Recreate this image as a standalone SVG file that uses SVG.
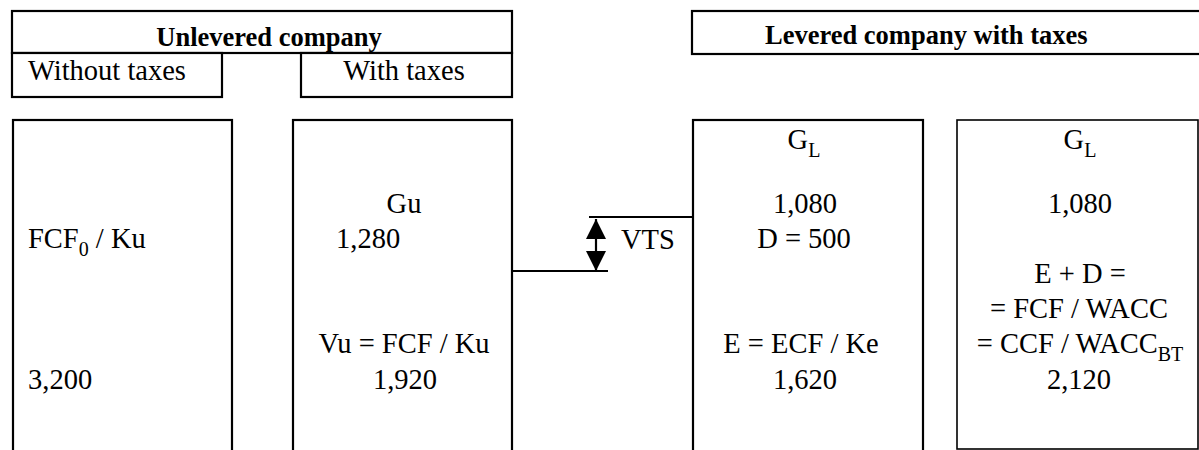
<svg xmlns="http://www.w3.org/2000/svg" width="1199" height="450" viewBox="0 0 1199 450">
<style>
.box{fill:#fff;stroke:#000;stroke-width:2.2}
.t{font-family:"Liberation Serif","Times New Roman",serif;font-size:28.5px;fill:#000}
.b{font-family:"Liberation Serif","Times New Roman",serif;font-size:26.5px;font-weight:bold;fill:#000}
.c{text-anchor:middle}
.sub{font-size:20px}
.ln{stroke:#000;stroke-width:2.2;fill:none}
</style>
<defs>
<marker id="ah" viewBox="0 0 20 20" refX="20" refY="10" markerWidth="20" markerHeight="20" markerUnits="userSpaceOnUse" orient="auto-start-reverse">
<path d="M0,0 L20,10 L0,20 Z" fill="#000"/>
</marker>
</defs>
<rect width="1199" height="450" fill="#fff"/>
<g id="unlevered-header">
<rect class="box" x="12" y="11" width="500" height="42"/>
<text class="b c" x="269" y="46">Unlevered company</text>
</g>
<g id="without-taxes-header">
<rect class="box" x="12" y="53" width="210" height="44"/>
<text class="t" x="28" y="80">Without taxes</text>
</g>
<g id="with-taxes-header">
<rect class="box" x="301" y="53" width="211" height="44"/>
<text class="t c" x="404" y="80">With taxes</text>
</g>
<g id="levered-header">
<rect class="box" x="692" y="11" width="520" height="43"/>
<text class="b" x="765" y="44">Levered company with taxes</text>
</g>
<g id="box-without-taxes">
<rect class="box" x="13" y="120" width="219" height="350"/>
<text class="t" x="28" y="248">FCF<tspan class="sub" dy="8">0</tspan><tspan dy="-8"> / Ku</tspan></text>
<text class="t" x="28" y="389">3,200</text>
</g>
<g id="box-with-taxes">
<rect class="box" x="293" y="120" width="219" height="350"/>
<text class="t c" x="404" y="213">Gu</text>
<text class="t" x="336" y="248">1,280</text>
<text class="t c" x="404" y="353">Vu = FCF / Ku</text>
<text class="t c" x="405" y="389">1,920</text>
</g>
<g id="box-levered-equity">
<rect class="box" x="693" y="120" width="230" height="350"/>
<text class="t c" x="804" y="149">G<tspan class="sub" dy="8">L</tspan></text>
<text class="t c" x="805" y="213">1,080</text>
<text class="t c" x="804" y="248">D = 500</text>
<text class="t c" x="801" y="353">E = ECF / Ke</text>
<text class="t c" x="805" y="389">1,620</text>
</g>
<g id="box-levered-total">
<rect class="box" x="957" y="120" width="241" height="329" style="stroke-width:1.6"/>
<text class="t c" x="1080" y="149">G<tspan class="sub" dy="8">L</tspan></text>
<text class="t c" x="1080" y="213">1,080</text>
<text class="t c" x="1080" y="283">E + D =</text>
<text class="t c" x="1079" y="318">= FCF / WACC</text>
<text class="t c" x="1080" y="353">= CCF / WACC<tspan class="sub" dy="8">BT</tspan></text>
<text class="t c" x="1079" y="389">2,120</text>
</g>
<g id="connectors">
<line class="ln" x1="512" y1="271" x2="608" y2="271"/>
<line class="ln" x1="589" y1="217" x2="693" y2="217"/>
<line class="ln" x1="596" y1="219" x2="596" y2="271" marker-start="url(#ah)" marker-end="url(#ah)"/>
<text class="t" x="621" y="249">VTS</text>
</g>
</svg>
